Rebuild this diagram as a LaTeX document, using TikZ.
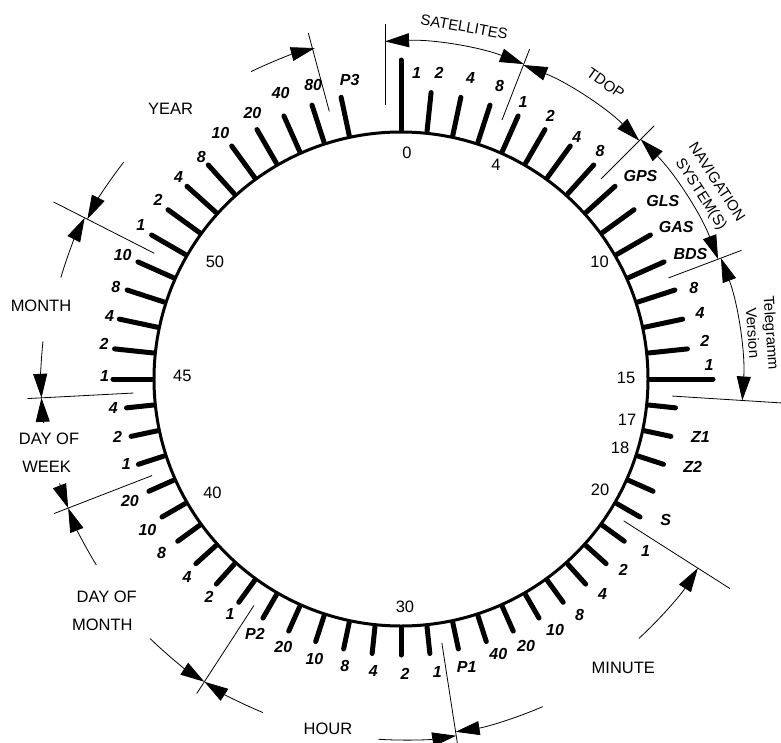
\documentclass[tikz,border=0pt]{standalone}
\usepackage{fontspec}
\setmainfont{Liberation Sans}
\usetikzlibrary{arrows.meta}
\begin{document}
\begin{tikzpicture}[x=1pt,y=1pt,
  tickline/.style={line width=5pt, line cap=round},
  sepline/.style={line width=0.8pt},
  dimone/.style={line width=0.8pt, arrows={-Triangle[length=24pt,width=14pt]}},
  dimboth/.style={line width=0.8pt, arrows={Triangle[length=24pt,width=14pt]-Triangle[length=24pt,width=14pt]}},
  ticklab/.style={font=\fontsize{16}{19}\selectfont\bfseries\itshape, inner sep=0pt, text height=11.5pt, text depth=0pt},
  numlab/.style={font=\fontsize{16.5}{19}\selectfont, inner sep=0pt, text height=11.8pt, text depth=0pt},
  hlab/.style={font=\fontsize{16.5}{19}\selectfont, inner sep=0pt, text height=11.8pt, text depth=0pt},
  rlab/.style={font=\fontsize{15}{18}\selectfont, inner sep=0pt, text height=10.7pt, text depth=0pt},
  rfree/.style={font=\fontsize{15}{18}\selectfont, inner sep=0pt},
]
\useasboundingbox (-401,-363) rectangle (380,379);
% dial
\draw[line width=3pt] (0,0) circle[radius=247];
% ticks
\foreach \k in {1,...,14} \draw[tickline] ({90-6*\k}:249) -- ({90-6*\k}:288);
\foreach \k in {45,...,58} \draw[tickline] ({90-6*\k}:249) -- ({90-6*\k}:288);
\foreach \k in {16,...,44} \draw[tickline] ({90-6*\k}:249) -- ({90-6*\k}:276);
\draw[tickline] (90:249) -- (90:319);
\draw[tickline] (0:249) -- (0:312);
% separators
\foreach \t/\ra/\rb in {21.3/278/354, 45/283/358, 69.3/286/364, 93.6/272/382,
  122.5/264/390, 171.2/267/378, 213/270/375, 248.8/267/372, 267/268/374,
  297/277/390, 345/277/358}
  \draw[sepline] ({90-\t}:\ra) -- ({90-\t}:\rb);
\draw[sepline] (-16,274) -- (-16,355);
% dimension arcs
\draw[dimboth] (92.7:338) arc[start angle=92.7, end angle=68.7, radius=338];
\draw[dimboth] (68.7:337) arc[start angle=68.7, end angle=45, radius=337];
\draw[dimboth] (45:339) arc[start angle=45, end angle=20.7, radius=339];
\draw[dimboth] (20.7:342) arc[start angle=20.7, end angle=-3.6, radius=342];
\draw[dimone] (-47.5:352) arc[start angle=-47.5, end angle=-32.5, radius=352];
\draw[dimone] (-66.6:357) arc[start angle=-66.6, end angle=-81.2, radius=357];
\draw[dimone] (-93.6:361) arc[start angle=-93.6, end angle=-81.2, radius=361];
\draw[dimone] (-112.5:361) arc[start angle=-112.5, end angle=-123, radius=361];
\draw[dimone] (-134:361) arc[start angle=-134, end angle=-123, radius=361];
\draw[dimone] (-148.6:357) arc[start angle=-148.6, end angle=-158.8, radius=357];
\draw[dimone] (-163:357) arc[start angle=-163, end angle=-158.8, radius=357];
\draw[dimone] (-173:360) arc[start angle=-173, end angle=-177, radius=360];
\draw[dimone] (-186:360) arc[start angle=-186, end angle=-177, radius=360];
\draw[dimone] (-196.6:355) arc[start angle=-196.6, end angle=-207, radius=355];
\draw[dimone] (-218:352) arc[start angle=-218, end angle=-207, radius=352];
\draw[dimone] (-244:342) arc[start angle=-244, end angle=-255.4, radius=342];
% texts, in screen coordinates
\begin{scope}[shift={(-401,379)}, yscale=-1]
\foreach \k/\t/\x/\y in {0/1/416.5/73, 1/2/439/73, 2/4/470.5/77.5, 3/8/499.5/86,
  4/1/523/101.7, 5/2/550.3/115.8, 6/4/576.7/136.3, 7/8/600/150.8,
  8/GPS/640.5/175.5, 9/GLS/662.8/200.8, 10/GAS/676.3/226.7, 11/BDS/690.5/254.2,
  12/8/693.8/287.5, 13/4/700/312.5, 14/2/704.7/340.8, 15/1/709/365,
  17/Z1/700.5/436.8, 18/Z2/692.7/466.7, 20/S/665.8/520,
  21/1/645.5/550.8, 22/2/623.3/569.7, 23/4/602.5/593.7, 24/8/579.5/614.5,
  25/10/555/630, 26/20/526/645.8, 27/40/498.3/654, 28/P1/466.7/666.7,
  29/1/437.2/671.7, 30/2/405/674, 31/4/373.3/670.5, 32/8/344.7/666,
  33/10/314.5/658.3, 34/20/283.3/646.3, 35/P2/255/633.7,
  36/1/230/613.3, 37/2/209/596.3, 38/4/187/577, 39/8/161.7/553,
  40/10/147.5/529.7, 41/20/130/501.2, 42/1/126.3/463.3, 43/2/117.7/436.3,
  44/4/113.3/407.5, 45/1/104.7/375.3, 46/2/104/343.3, 47/4/109.5/315.3,
  48/8/115.8/286.3, 49/10/122.7/254.3, 50/1/140.8/224.5, 51/2/158/199.7,
  52/4/178.7/177, 53/8/201.3/156.7, 54/10/220.5/133, 55/20/252.5/112.7,
  56/40/280.7/92.7, 57/80/313.2/84.6, 58/P3/349.7/79.3}
  \node[ticklab] (t\k) at (\x,\y) {\t};
\foreach \n/\x/\y in {0/407/153, 4/496/165, 10/599.5/262, 15/626/378,
  17/627/420, 18/620/447.5, 20/600/490, 30/405/606.7, 40/212.5/493,
  45/182.3/376, 50/215/261.7}
  \node[numlab] (n\n) at (\x,\y) {\n};
\node[rlab, rotate=-10] (sat) at (464.3,26.7) {SATELLITES};
\node[rlab, rotate=-35] (tdop) at (605.7,83.3) {TDOP};
\node[rlab, rotate=-57] (nav1) at (717.5,181.8) {NAVIGATION};
\node[rlab, rotate=-57] (nav2) at (701.8,193.5) {SYSTEM(S)};
\node[rfree, rotate=-86] (tel1) at (770,333) {Telegramm};
\node[rfree, rotate=-86] (tel2) at (753,333) {Version};
\node[hlab] (minute) at (623.3,667.8) {MINUTE};
\node[hlab] (hour) at (328,728.3) {HOUR};
\node[hlab] (dom1) at (106.7,596.7) {DAY OF};
\node[hlab] (dom2) at (102.3,625) {MONTH};
\node[hlab] (dow1) at (49,439) {DAY OF};
\node[hlab] (dow2) at (46.7,467) {WEEK};
\node[hlab] (month) at (41,306) {MONTH};
\node[hlab] (year) at (170.5,109) {YEAR};
\end{scope}
\end{tikzpicture}
\end{document}
